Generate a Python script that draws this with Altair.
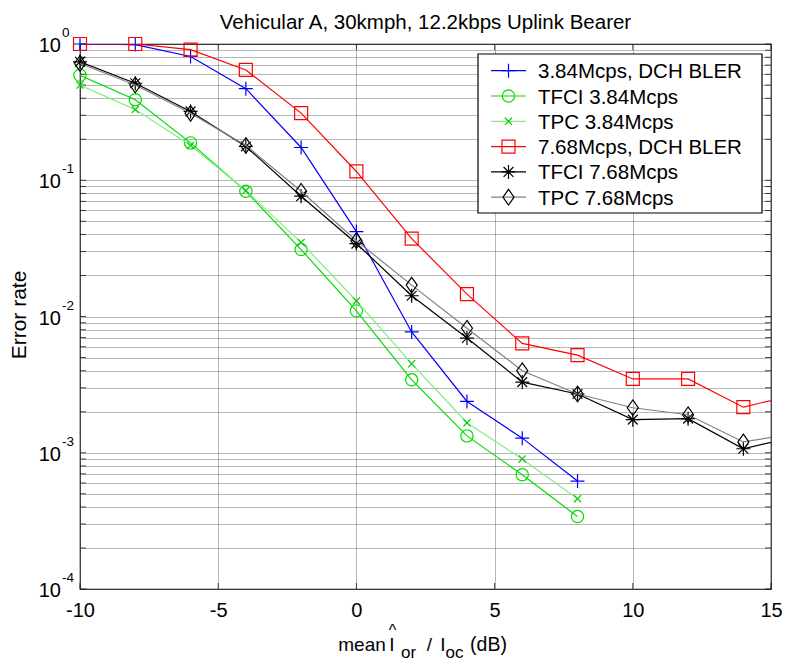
import altair as alt
import pandas as pd

# ---------------- data ----------------
x_db = [-10, -8, -6, -4, -2, 0, 2, 4, 6, 8, 10, 12, 14, 16]

bler_384 = [1.0, 0.99, 0.81, 0.47, 0.174, 0.042, 0.0077, 0.00238, 0.00128, 0.00062]
tfci_384 = [0.59, 0.39, 0.188, 0.083, 0.031, 0.011, 0.00343, 0.00133, 0.00069, 0.00034]
tpc_384 = [0.50, 0.33, 0.18, 0.084, 0.035, 0.013, 0.0045, 0.00166, 0.0009, 0.00046]
bler_768 = [1.0, 1.0, 0.91, 0.645, 0.311, 0.116, 0.0373, 0.0146, 0.00635, 0.0052,
            0.00348, 0.00348, 0.00216, 0.0027]
tfci_768 = [0.74, 0.515, 0.32, 0.177, 0.0764, 0.0343, 0.0142, 0.00695, 0.0033, 0.0027,
            0.00175, 0.00178, 0.00107, 0.00133]
tpc_768 = [0.72, 0.50, 0.31, 0.18, 0.083, 0.036, 0.017, 0.0082, 0.004, 0.0027,
           0.00214, 0.0019, 0.0012, 0.0014]

series_names = ["3.84Mcps, DCH BLER", "TFCI 3.84Mcps", "TPC 3.84Mcps",
                "7.68Mcps, DCH BLER", "TFCI 7.68Mcps", "TPC 7.68Mcps"]
series_values = [bler_384, tfci_384, tpc_384, bler_768, tfci_768, tpc_768]

x_ticks = [-10, -5, 0, 5, 10, 15]
decades = [1, 0.1, 0.01, 0.001, 0.0001]
decade_exp = ["0", "-1", "-2", "-3", "-4"]
y_minor = [m * 10.0 ** e for e in range(-4, 0) for m in range(1, 10)] + [1.0]

title_text = "Vehicular A, 30kmph, 12.2kbps Uplink Bearer"
ylabel_text = "Error rate"

# ---------------- styles ----------------
FONT = "Liberation Sans, Arial, Helvetica, sans-serif"
W, H = 691, 545

line_colors = ["#0000ff", "#00dd00", "#85ee85", "#ff0000", "#000000", "#808080"]
marker_colors = ["#0000ff", "#00dd00", "#00cc00", "#ff0000", "#000000", "#000000"]
PLUS = "M-1,0L1,0M0,-1L0,1"
XMARK = "M-0.75,-0.75L0.75,0.75M-0.75,0.75L0.75,-0.75"
STAR = "M-1,0L1,0M0,-1L0,1M-0.7,-0.7L0.7,0.7M-0.7,0.7L0.7,-0.7"
DIAMOND = "M0,-1.2L0.85,0L0,1.2L-0.85,0Z"
shapes = [PLUS, "circle", XMARK, "square", STAR, DIAMOND]
sizes = [196, 150, 90, 169, 196, 169]

xs = alt.Scale(domain=[-10, 15], nice=False, zero=False)
ys = alt.Scale(type="log", domain=[1e-4, 1], nice=False)

GRID = "#6e6e6e"
x_axis = alt.Axis(values=x_ticks, grid=True, gridDash=[1, 1], gridColor=GRID,
                  gridOpacity=1, ticks=False, domain=False, title=None,
                  labelFontSize=20, labelFont=FONT, labelColor="black",
                  labelPadding=11, labelFlush=False, labelOverlap=False,
                  labelExpr="'' + datum.value")
y_axis = alt.Axis(values=y_minor, grid=True, gridDash=[1, 1], gridColor=GRID,
                  gridOpacity=1, ticks=False, domain=False, title=None, labels=False)


def X(field):
    return alt.X(field, type="quantitative", scale=xs, axis=x_axis)


def Y(field):
    return alt.Y(field, type="quantitative", scale=ys, axis=y_axis)


layers = []

# inner tick marks (MATLAB style)
yt = pd.DataFrame({"v": y_minor})
xt = pd.DataFrame({"v": x_ticks})
for xv in [3, W - 3]:
    layers.append(alt.Chart(yt).mark_tick(color="black", size=6, thickness=1)
                  .encode(y=Y("v"), x=alt.value(xv)))
for yv in [3, H - 3]:
    layers.append(alt.Chart(xt).mark_tick(color="black", size=6, thickness=1)
                  .encode(x=X("v"), y=alt.value(yv)))

# series
for i, name in enumerate(series_names):
    vals = series_values[i]
    df = pd.DataFrame({"x": x_db[:len(vals)], "y": vals})
    layers.append(alt.Chart(df).mark_line(color=line_colors[i], strokeWidth=1.2, clip=True)
                  .encode(x=X("x"), y=Y("y")))
    dfp = df[df["x"] <= 15]
    layers.append(alt.Chart(dfp).mark_point(shape=shapes[i], size=sizes[i], filled=False,
                                            stroke=marker_colors[i], strokeWidth=1.2, opacity=1)
                  .encode(x=X("x"), y=Y("y")))

# y tick labels 10^n
ylab = pd.DataFrame({"v": decades, "base": ["10"] * len(decades), "exp": decade_exp})
layers.append(alt.Chart(ylab).mark_text(align="right", baseline="alphabetic", dy=8,
                                        fontSize=20, font=FONT, color="black")
              .encode(y=Y("v"), x=alt.value(-19), text="base:N"))
layers.append(alt.Chart(ylab).mark_text(align="left", baseline="alphabetic", dy=-7,
                                        fontSize=13.5, font=FONT, color="black")
              .encode(y=Y("v"), x=alt.value(-18), text="exp:N"))

# title
layers.append(alt.Chart(pd.DataFrame({"t": [title_text]}))
              .mark_text(align="center", baseline="alphabetic", fontSize=20.5, font=FONT, color="black")
              .encode(text="t:N", x=alt.value(W / 2), y=alt.value(-15)))
# y label
layers.append(alt.Chart(pd.DataFrame({"t": [ylabel_text]}))
              .mark_text(align="center", baseline="alphabetic", angle=270, fontSize=21, font=FONT, color="black")
              .encode(text="t:N", x=alt.value(-54), y=alt.value(271)))

# x label: mean I^_or / I_oc (dB)
xlab_parts = [
    ("mean", 282, 607, 19),
    ("I", 312, 607, 19),
    ("^", 312.5, 592, 16),
    ("or", 328.5, 614, 17),
    ("/", 349.5, 607, 19),
    ("I", 363, 607, 19),
    ("oc", 374.5, 614, 17),
    ("(dB)", 408.5, 607, 19.5),
]
for txt, px, py, fs in xlab_parts:
    layers.append(alt.Chart(pd.DataFrame({"t": [txt]}))
                  .mark_text(align="center", baseline="alphabetic", fontSize=fs, font=FONT, color="black")
                  .encode(text="t:N", x=alt.value(px), y=alt.value(py)))

# legend
layers.append(alt.Chart(pd.DataFrame({"a": [0]})).mark_rect(fill="white", stroke="black", strokeWidth=1.2)
              .encode(x=alt.value(398), x2=alt.value(682), y=alt.value(10), y2=alt.value(169)))
for i, name in enumerate(series_names):
    ry = 26.7 + 25.3 * i
    ldf = pd.DataFrame({"t": [name]})
    layers.append(alt.Chart(ldf).mark_rule(color=line_colors[i], strokeWidth=1.2)
                  .encode(x=alt.value(411), x2=alt.value(446), y=alt.value(ry)))
    layers.append(alt.Chart(ldf).mark_point(shape=shapes[i], size=sizes[i], filled=False,
                                            stroke=marker_colors[i], strokeWidth=1.2, opacity=1)
                  .encode(x=alt.value(428.5), y=alt.value(ry)))
    layers.append(alt.Chart(ldf).mark_text(align="left", baseline="alphabetic", fontSize=20.5,
                                           font=FONT, color="black")
                  .encode(text="t:N", x=alt.value(458), y=alt.value(ry + 7.5)))

chart = alt.layer(*layers).properties(
    width=W, height=H,
    autosize=alt.AutoSizeParams(type="none"),
    padding={"left": 80, "top": 44, "right": 16, "bottom": 75},
    background="white",
).configure_view(stroke="black", strokeWidth=1.2)

chart.save("out.html", embed_options={"renderer": "svg", "actions": False})
